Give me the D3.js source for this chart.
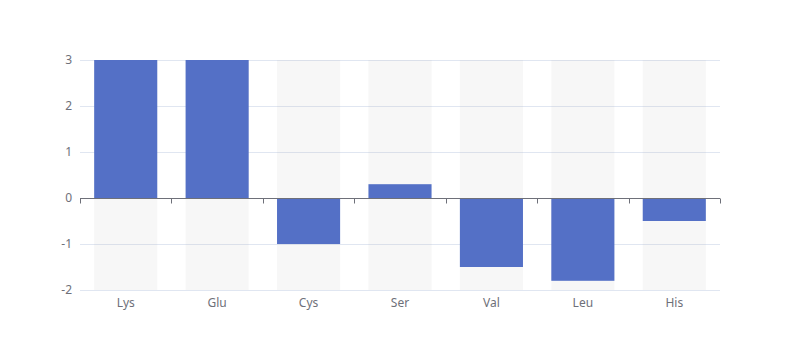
<!DOCTYPE html>
<html><head><meta charset="utf-8">
<script src="https://cdn.jsdelivr.net/npm/d3@7/dist/d3.min.js"></script>
<style>body{margin:0;background:#fff}svg{display:block}</style>
</head><body><svg id="c" width="800" height="360"></svg>
<script>
const categories = ["Lys","Glu","Cys","Ser","Val","Leu","His"];
const values = [3, 3, -1, 0.3, -1.5, -1.8, -0.5];
const yTicks = [-2, -1, 0, 1, 2, 3];

const svg = d3.select("#c");
const m = {l:80, r:720, t:60, b:290};
const x = d3.scaleBand().domain(categories).range([m.l, m.r]).padding(0);
const y = d3.scaleLinear().domain([-2, 3]).range([m.b, m.t]);
const font = "'Microsoft YaHei', 'Noto Sans', sans-serif";

// grid lines
svg.append("g").selectAll("line").data(yTicks.filter(d => d !== 0)).join("line")
  .attr("x1", m.l).attr("x2", m.r)
  .attr("y1", d => y(d) + 0.5).attr("y2", d => y(d) + 0.5)
  .attr("stroke", "#e0e6f1").attr("stroke-width", 1);

const bw = x.bandwidth() * 0.69;
const off = (x.bandwidth() - bw) / 2;
// background
svg.append("g").selectAll("rect").data(categories).join("rect")
  .attr("x", d => x(d) + off).attr("width", bw)
  .attr("y", y(3)).attr("height", y(-2) - y(3))
  .attr("fill", "rgba(180,180,180,0.1)");
// bars
svg.append("g").selectAll("rect").data(values).join("rect")
  .attr("x", (d, i) => x(categories[i]) + off).attr("width", bw)
  .attr("y", d => y(Math.max(0, d))).attr("height", d => Math.abs(y(d) - y(0)))
  .attr("fill", "#5470c6");

// y labels
svg.append("g").selectAll("text").data(yTicks).join("text")
  .attr("x", m.l - 8).attr("y", d => y(d)).attr("dy", "0.35em")
  .attr("text-anchor", "end").attr("fill", "#6e7079")
  .attr("font-size", 12).attr("font-family", font).text(d => d);

// x axis at zero
const xa = svg.append("g").attr("transform", `translate(0,${Math.round(y(0)) + 0.5})`)
  .call(d3.axisBottom(x).tickSize(0).tickFormat(""));
xa.select(".domain").attr("stroke", "#6e7079").attr("d", `M${m.l},0H${m.r}`);
const bounds = d3.range(categories.length + 1).map(i => m.l + i * x.step());
xa.selectAll(".bt").data(bounds).join("line").attr("class", "bt")
  .attr("x1", d => Math.round(d) + 0.5).attr("x2", d => Math.round(d) + 0.5)
  .attr("y1", 0).attr("y2", 5).attr("stroke", "#6e7079");

// x labels at bottom
svg.append("g").selectAll("text").data(categories).join("text")
  .attr("x", d => x(d) + x.bandwidth() / 2).attr("y", m.b + 17)
  .attr("text-anchor", "middle").attr("fill", "#6e7079")
  .attr("font-size", 12).attr("font-family", font).text(d => d);
</script></body></html>
